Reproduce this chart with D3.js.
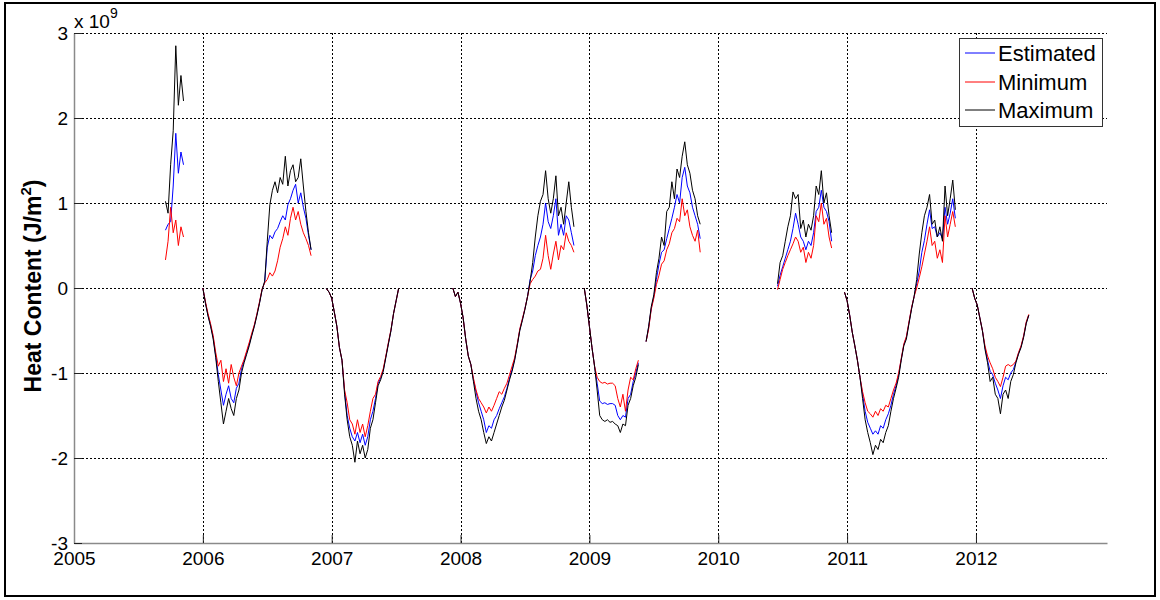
<!DOCTYPE html>
<html>
<head>
<meta charset="utf-8">
<title>Heat Content</title>
<script src="https://cdn.jsdelivr.net/npm/d3@7"></script>
<style>
  body { margin: 0; background: #fff; }
  svg text { font-family: "Liberation Sans", Arial, sans-serif; fill: #000; }
</style>
</head>
<body>
<svg id="chart" width="1160" height="600"></svg>
<script>
// ---- data (units of 1e9 J/m^2), one sub-array per continuous record ----
var segmentStart = [2005.71, 2006.00, 2006.96, 2007.94, 2008.96, 2009.44, 2010.46, 2010.98, 2011.97];
var sampleStep = 0.02;   // years between samples

var estimated = [
  [0.68, 0.75, 0.78, 1.2, 1.82, 1.35, 1.6, 1.45],
  [0.0, -0.17, -0.32, -0.44, -0.58, -0.8, -1.02, -1.2, -1.38, -1.25, -1.15, -1.3, -1.35, -1.18, -1.12, -0.95, -0.86, -0.76, -0.66, -0.55, -0.44, -0.31, -0.17, -0.02, 0.07, 0.48, 0.62, 0.58, 0.66, 0.7, 0.78, 0.85, 0.8, 0.98, 1.05, 1.15, 1.22, 1.0, 1.12, 0.95, 0.82, 0.62, 0.45],
  [-0.01, -0.05, -0.12, -0.28, -0.45, -0.7, -0.85, -1.22, -1.5, -1.65, -1.75, -1.8, -1.7, -1.82, -1.72, -1.85, -1.75, -1.55, -1.45, -1.3, -1.12, -1.06, -0.97, -0.81, -0.65, -0.5, -0.3, -0.15, 0.0],
  [0.0, -0.1, -0.05, -0.18, -0.35, -0.6, -0.8, -0.9, -1.08, -1.22, -1.35, -1.45, -1.55, -1.7, -1.62, -1.65, -1.55, -1.5, -1.42, -1.35, -1.28, -1.18, -1.06, -0.96, -0.84, -0.67, -0.49, -0.37, -0.24, -0.1, 0.1, 0.2, 0.38, 0.5, 0.6, 0.75, 1.0, 0.78, 0.7, 0.85, 1.05, 0.62, 0.75, 0.62, 0.85, 0.8, 0.65, 0.5],
  [0.0, -0.2, -0.45, -0.7, -0.92, -1.12, -1.33, -1.36, -1.35, -1.37, -1.36, -1.36, -1.38, -1.5, -1.55, -1.5, -1.52, -1.3, -1.25, -1.1, -1.0, -0.88],
  [-0.63, -0.46, -0.24, -0.1, 0.1, 0.28, 0.42, 0.45, 0.58, 0.7, 0.82, 0.95, 1.1, 1.0, 1.3, 1.42, 1.2, 1.12, 0.95, 0.85, 0.75, 0.58],
  [0.02, 0.15, 0.25, 0.35, 0.45, 0.55, 0.7, 0.88, 0.75, 0.6, 0.55, 0.45, 0.55, 0.5, 0.65, 0.9, 0.95, 1.15, 0.95, 0.9, 0.78, 0.55],
  [-0.05, -0.15, -0.32, -0.52, -0.68, -0.85, -1.05, -1.25, -1.45, -1.58, -1.65, -1.72, -1.68, -1.72, -1.62, -1.65, -1.55, -1.48, -1.38, -1.25, -1.15, -1.02, -0.84, -0.67, -0.58, -0.41, -0.24, -0.1, 0.05, 0.2, 0.42, 0.56, 0.75, 0.92, 0.7, 0.72, 0.6, 0.65, 0.58, 0.95, 0.75, 0.88, 1.05, 0.82],
  [0.0, -0.12, -0.2, -0.35, -0.5, -0.7, -0.85, -0.98, -1.02, -1.12, -1.2, -1.3, -1.15, -1.05, -1.08, -1.0, -0.96, -0.87, -0.77, -0.69, -0.57, -0.41, -0.32]
];

var minimum = [
  [0.33, 0.55, 0.95, 0.65, 0.8, 0.5, 0.72, 0.6],
  [0.0, -0.16, -0.3, -0.42, -0.56, -0.76, -0.92, -0.85, -1.1, -0.95, -1.12, -0.9, -1.05, -1.15, -1.0, -0.92, -0.84, -0.74, -0.64, -0.53, -0.43, -0.3, -0.16, -0.01, 0.06, 0.1, 0.18, 0.14, 0.2, 0.32, 0.48, 0.58, 0.72, 0.62, 0.82, 0.95, 0.8, 0.9, 0.75, 0.65, 0.58, 0.5, 0.38],
  [-0.01, -0.05, -0.12, -0.28, -0.45, -0.7, -0.85, -1.2, -1.35, -1.55, -1.6, -1.72, -1.55, -1.7, -1.6, -1.75, -1.62, -1.45, -1.3, -1.25, -1.1, -1.04, -0.95, -0.8, -0.64, -0.49, -0.3, -0.15, 0.0],
  [0.0, -0.1, -0.05, -0.18, -0.35, -0.6, -0.8, -0.9, -1.06, -1.2, -1.3, -1.35, -1.4, -1.47, -1.4, -1.45, -1.38, -1.3, -1.22, -1.25, -1.18, -1.12, -1.02, -0.92, -0.82, -0.66, -0.48, -0.36, -0.24, -0.1, 0.05, 0.1, 0.14, 0.2, 0.22, 0.35, 0.62, 0.38, 0.22, 0.4, 0.55, 0.33, 0.5, 0.45, 0.65, 0.55, 0.5, 0.42],
  [0.0, -0.2, -0.45, -0.7, -0.92, -1.05, -1.1, -1.12, -1.11, -1.13, -1.12, -1.12, -1.15, -1.3, -1.4, -1.25, -1.45, -1.2, -1.05, -1.08, -0.95, -0.85],
  [-0.63, -0.48, -0.25, -0.12, 0.04, 0.15, 0.28, 0.32, 0.45, 0.52, 0.65, 0.7, 0.82, 0.78, 1.05, 0.85, 0.92, 0.72, 0.62, 0.55, 0.68, 0.42],
  [-0.02, 0.1, 0.22, 0.3, 0.38, 0.45, 0.52, 0.6, 0.55, 0.42, 0.48, 0.3, 0.42, 0.35, 0.5, 0.85, 0.78, 1.0, 0.75, 0.82, 0.6, 0.47],
  [-0.05, -0.15, -0.32, -0.52, -0.68, -0.85, -1.05, -1.22, -1.35, -1.45, -1.48, -1.52, -1.45, -1.5, -1.42, -1.45, -1.38, -1.4, -1.3, -1.2, -1.12, -1.0, -0.83, -0.66, -0.57, -0.4, -0.23, -0.1, 0.0, 0.12, 0.25, 0.4, 0.55, 0.72, 0.5, 0.55, 0.35, 0.45, 0.3, 0.85, 0.6, 0.75, 0.9, 0.72],
  [0.0, -0.12, -0.2, -0.35, -0.5, -0.68, -0.8, -0.88, -0.95, -1.05, -1.1, -1.16, -1.05, -0.92, -0.9, -0.92, -0.9, -0.86, -0.76, -0.68, -0.56, -0.4, -0.31]
];

var maximum = [
  [1.02, 0.88, 1.45, 1.85, 2.85, 2.15, 2.5, 2.2],
  [0.0, -0.18, -0.33, -0.45, -0.6, -0.82, -1.1, -1.35, -1.6, -1.45, -1.3, -1.42, -1.5, -1.3, -1.2, -1.0, -0.88, -0.78, -0.68, -0.56, -0.45, -0.32, -0.18, -0.02, 0.08, 0.55, 0.98, 1.15, 1.25, 1.12, 1.3, 1.22, 1.55, 1.2, 1.38, 1.45, 1.25, 1.3, 1.52, 1.2, 0.9, 0.65, 0.45],
  [-0.01, -0.05, -0.12, -0.28, -0.45, -0.7, -0.85, -1.25, -1.55, -1.75, -1.85, -2.05, -1.8, -1.95, -1.85, -2.0, -1.9, -1.65, -1.55, -1.35, -1.15, -1.08, -0.98, -0.82, -0.66, -0.5, -0.3, -0.15, 0.0],
  [0.0, -0.1, -0.05, -0.18, -0.35, -0.6, -0.8, -0.9, -1.1, -1.3, -1.45, -1.55, -1.7, -1.83, -1.75, -1.8, -1.7, -1.6, -1.5, -1.4, -1.32, -1.2, -1.08, -0.98, -0.85, -0.68, -0.5, -0.38, -0.25, -0.1, 0.08, 0.3, 0.6, 0.85, 1.02, 1.1, 1.38, 1.05, 0.88, 1.05, 1.32, 0.85, 0.95, 0.75, 1.0, 1.25, 0.95, 0.72],
  [0.0, -0.2, -0.45, -0.7, -0.92, -1.2, -1.5, -1.55, -1.57, -1.55, -1.58, -1.57, -1.6, -1.62, -1.7, -1.6, -1.62, -1.38, -1.3, -1.15, -1.05, -0.9],
  [-0.63, -0.45, -0.22, -0.08, 0.18, 0.35, 0.6, 0.5, 0.9, 0.95, 1.25, 1.05, 1.4, 1.3, 1.55, 1.72, 1.45, 1.35, 1.15, 1.05, 0.85, 0.75],
  [0.05, 0.3, 0.38, 0.55, 0.72, 0.85, 1.13, 1.05, 1.1, 0.7, 0.8, 0.6, 0.75, 0.68, 0.85, 1.2, 1.1, 1.38, 1.0, 1.12, 0.85, 0.65],
  [-0.05, -0.15, -0.32, -0.52, -0.68, -0.85, -1.05, -1.3, -1.55, -1.7, -1.82, -1.96, -1.85, -1.9, -1.78, -1.82, -1.7, -1.62, -1.45, -1.3, -1.18, -1.05, -0.85, -0.68, -0.6, -0.42, -0.25, -0.1, 0.1, 0.4, 0.65, 0.85, 0.95, 1.1, 0.75, 0.8, 0.6, 0.72, 0.55, 1.2, 0.85, 1.05, 1.27, 0.92],
  [0.0, -0.12, -0.2, -0.35, -0.5, -0.72, -0.88, -1.1, -1.05, -1.25, -1.3, -1.48, -1.25, -1.2, -1.3, -1.1, -1.02, -0.88, -0.78, -0.7, -0.58, -0.42, -0.32]
];

var seriesNames = ["Estimated", "Minimum", "Maximum"];
var seriesColors = ["#0000ff", "#ff0000", "#000000"];
var yearTicks = [2005, 2006, 2007, 2008, 2009, 2010, 2011, 2012];
var valueTicks = [-3, -2, -1, 0, 1, 2, 3];

// ---- layout ----
var plotLeft = 74, plotRight = 1107, plotTop = 33, plotBottom = 543;

var svg = d3.select("#chart");

var x = d3.scaleLinear().domain([2005, 2013.017]).range([plotLeft, plotRight]);
var y = d3.scaleLinear().domain([-3, 3]).range([plotBottom, plotTop]);

// figure frame
svg.append("rect")
  .attr("x", 5).attr("y", 3)
  .attr("width", 1150).attr("height", 593)
  .attr("fill", "#fff")
  .attr("stroke", "#000")
  .attr("stroke-width", 2);

svg.append("defs").append("clipPath").attr("id", "plotclip")
  .append("rect")
  .attr("x", plotLeft).attr("y", plotTop - 1)
  .attr("width", plotRight - plotLeft).attr("height", plotBottom - plotTop + 2);

// grid
var grid = svg.append("g").attr("stroke", "#000").attr("stroke-width", 1)
  .attr("stroke-dasharray", "2,2").attr("shape-rendering", "crispEdges");
grid.selectAll("line.gx").data(yearTicks.slice(1)).enter().append("line")
  .attr("class", "gx")
  .attr("x1", function(d) { return Math.round(x(d)) + 0.5; })
  .attr("x2", function(d) { return Math.round(x(d)) + 0.5; })
  .attr("y1", plotTop).attr("y2", plotBottom);
grid.selectAll("line.gy").data(valueTicks.slice(1)).enter().append("line")
  .attr("class", "gy")
  .attr("y1", function(d) { return Math.round(y(d)) + 0.5; })
  .attr("y2", function(d) { return Math.round(y(d)) + 0.5; })
  .attr("x1", plotLeft).attr("x2", plotRight);

// series
function toPoints(values, s) {
  return values.map(function(v, i) { return [segmentStart[s] + i * sampleStep, v]; });
}
var line = d3.line()
  .x(function(d) { return x(d[0]); })
  .y(function(d) { return y(d[1]); });

var plot = svg.append("g").attr("clip-path", "url(#plotclip)");
[estimated, minimum, maximum].forEach(function(series, k) {
  plot.append("g")
    .selectAll("path")
    .data(series)
    .enter()
    .append("path")
    .attr("d", function(vals, s) { return line(toPoints(vals, s)); })
    .attr("fill", "none")
    .attr("stroke", seriesColors[k])
    .attr("stroke-width", 1)
    .attr("stroke-linejoin", "miter");
});

// axes (left and bottom only, matlab "box off")
var plainNum = function(d) { return String(d); };
var xAxis = svg.append("g").attr("transform", "translate(0," + plotBottom + ")")
  .call(d3.axisBottom(x).tickValues(yearTicks).tickSizeInner(-8).tickSizeOuter(0)
    .tickFormat(plainNum).tickPadding(12));
var yAxis = svg.append("g").attr("transform", "translate(" + plotLeft + ",0)")
  .call(d3.axisLeft(y).tickValues(valueTicks).tickSizeInner(-8).tickSizeOuter(0)
    .tickFormat(plainNum).tickPadding(6));

[xAxis, yAxis].forEach(function(a) {
  a.select(".domain").attr("stroke", "#8a8a8a").attr("stroke-width", 1.5);
  a.selectAll(".tick line").attr("stroke", "#222");
  a.selectAll("text").style("font-size", "19px").attr("fill", "#111");
});
xAxis.selectAll("text").attr("dy", "0.55em");
yAxis.selectAll("text").attr("dy", "0.35em");

// exponent label
var expo = svg.append("text").attr("x", 74).attr("y", 28).style("font-size", "19px");
expo.append("tspan").text("x 10");
expo.append("tspan").attr("dy", -10).style("font-size", "14px").text("9");

// y label
var ylab = svg.append("text")
  .attr("transform", "translate(41," + (y(0) - 2) + ") rotate(-90)")
  .attr("text-anchor", "middle")
  .style("font-size", "23px")
  .style("font-weight", "bold");
ylab.append("tspan").text("Heat Content (J/m");
ylab.append("tspan").attr("dy", -10).style("font-size", "15px").text("2");
ylab.append("tspan").attr("dy", 10).text(")");

// legend
var legend = svg.append("g");
legend.append("rect")
  .attr("x", 959.5).attr("y", 38.5)
  .attr("width", 143).attr("height", 88)
  .attr("fill", "#fff").attr("stroke", "#333").attr("stroke-width", 1);
var rows = legend.selectAll("g.row").data(seriesNames).enter().append("g")
  .attr("class", "row")
  .attr("transform", function(d, i) { return "translate(965," + Math.round(53 + i * 28.5) + ")"; });
rows.append("line")
  .attr("x1", 0).attr("x2", 30)
  .attr("stroke", function(d, i) { return seriesColors[i]; })
  .attr("stroke-width", 1);
rows.append("text")
  .attr("x", 33).attr("dy", "0.35em")
  .style("font-size", "22px")
  .text(function(d) { return d; });
</script>
</body>
</html>
